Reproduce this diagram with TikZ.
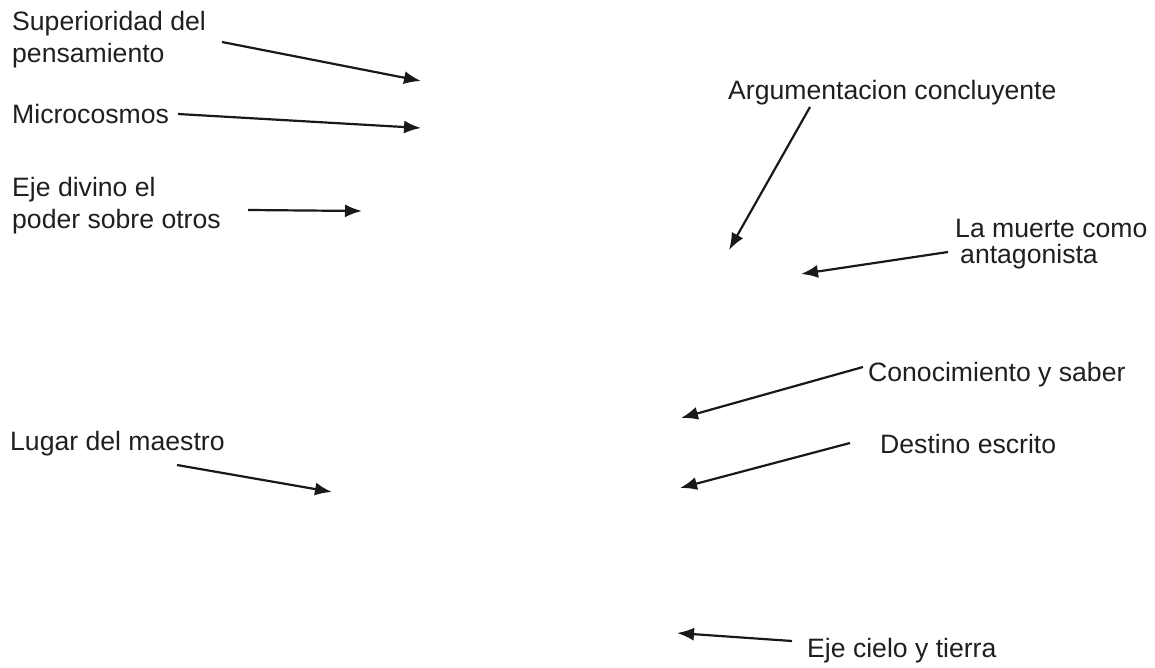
\documentclass[tikz,border=0pt]{standalone}
\usepackage{fontspec}
\setmainfont{Liberation Sans}
\usetikzlibrary{arrows.meta}
\begin{document}
\begin{tikzpicture}[x=1pt,y=-1pt,
  lbl/.style={anchor=base west,inner sep=0pt,font=\fontsize{26.6}{32}\selectfont,text=black!88},
  arr/.style={draw=black!90,line width=2.2pt,-{Latex[length=17pt,width=13pt]}}]
\useasboundingbox (0,0) rectangle (1155,668);
% left labels
\node[lbl] (sup1) at (12,31) {Superioridad del};
\node[lbl] (sup2) at (12,63) {pensamiento};
\node[lbl] (micro) at (12,124) {Microcosmos};
\node[lbl] (eje1) at (12,197) {Eje divino el};
\node[lbl] (eje2) at (12,229) {poder sobre otros};
\node[lbl] (lugar) at (10,450) {Lugar del maestro};
% right labels
\node[lbl] (arg) at (728,100) {Argumentacion concluyente};
\node[lbl] (muerte1) at (955,237) {La muerte como};
\node[lbl] (muerte2) at (960,263) {antagonista};
\node[lbl] (cono) at (868,381) {Conocimiento y saber};
\node[lbl] (dest) at (880,453) {Destino escrito};
\node[lbl] (cielo) at (807,657) {Eje cielo y tierra};
% connector ends
\coordinate (s1) at (222,42);  \coordinate (t1) at (421,81);
\coordinate (s2) at (178,114); \coordinate (t2) at (421,128);
\coordinate (s3) at (248,210); \coordinate (t3) at (362,211);
\coordinate (s4) at (810,107); \coordinate (t4) at (729,250);
\coordinate (s5) at (948,252); \coordinate (t5) at (801,274);
\coordinate (s6) at (863,367); \coordinate (t6) at (681,418);
\coordinate (s7) at (850,443); \coordinate (t7) at (680,488);
\coordinate (s8) at (177,465); \coordinate (t8) at (332,492);
\coordinate (s9) at (792,641); \coordinate (t9) at (677,633);
\draw[arr] (s1) -- (t1);
\draw[arr] (s2) -- (t2);
\draw[arr] (s3) -- (t3);
\draw[arr] (s4) -- (t4);
\draw[arr] (s5) -- (t5);
\draw[arr] (s6) -- (t6);
\draw[arr] (s7) -- (t7);
\draw[arr] (s8) -- (t8);
\draw[arr] (s9) -- (t9);
\end{tikzpicture}
\end{document}
